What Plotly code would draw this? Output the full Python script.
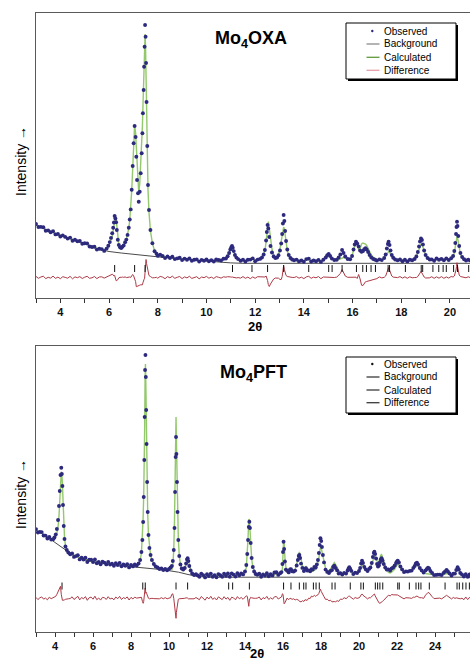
import plotly.graph_objects as go

# ================= Mo4OXA (upper panel) =================
TOP_2THETA = [
    3.0, 3.1, 3.2, 3.3, 3.4, 3.5, 3.6, 3.7, 3.8, 3.9, 4.0, 4.1, 4.2, 4.3, 4.4, 4.5, 4.6, 4.7, 4.8, 4.9, 5.0, 5.1, 5.2, 5.3, 5.4, 5.5, 5.6, 5.7, 5.8,
    5.9, 5.97, 6.03, 6.08, 6.13, 6.17, 6.2, 6.23, 6.26, 6.29, 6.32, 6.36, 6.4, 6.45, 6.5, 6.55, 6.6, 6.66, 6.71, 6.76, 6.81, 6.85, 6.89, 6.93, 6.97, 7.01, 7.05, 7.09, 7.12, 7.15, 7.19, 7.22, 7.26, 7.3, 7.34, 7.37, 7.39, 7.42, 7.44, 7.46, 7.48, 7.5, 7.52, 7.54, 7.57, 7.6, 7.64, 7.7, 7.78, 7.87, 7.95,
    8.0, 8.1, 8.2, 8.3, 8.4, 8.5, 8.6, 8.7, 8.8, 8.9, 9.0, 9.1, 9.2, 9.3, 9.4, 9.5, 9.6, 9.7, 9.8, 9.9, 10.0, 10.1, 10.2, 10.3, 10.4, 10.5, 10.6, 10.7,
    10.8, 10.87, 10.93, 10.98, 11.02, 11.05, 11.08, 11.12, 11.17, 11.23, 11.3, 11.4,
    11.5, 11.6, 11.7, 11.8, 11.9, 12.0, 12.1, 12.2,
    12.28, 12.35, 12.4, 12.45, 12.48, 12.51, 12.54, 12.58, 12.63, 12.69, 12.76, 12.83, 12.9, 12.96, 13.02, 13.07, 13.11, 13.14, 13.17, 13.2, 13.23, 13.27, 13.32, 13.38, 13.45, 13.52, 13.6,
    13.7, 13.8, 13.9, 14.0, 14.1, 14.2, 14.3, 14.4, 14.5, 14.6, 14.7, 14.8,
    14.9, 14.96, 15.02, 15.08, 15.15, 15.25, 15.35, 15.43, 15.5, 15.57, 15.63, 15.7, 15.8, 15.9, 15.98, 16.04, 16.09, 16.14, 16.19, 16.25, 16.31, 16.37, 16.43, 16.48, 16.53, 16.58, 16.64, 16.7, 16.77, 16.85, 16.93,
    17.0, 17.1, 17.2,
    17.3, 17.36, 17.41, 17.45, 17.48, 17.52, 17.56, 17.61, 17.67, 17.75, 17.85,
    17.95, 18.05, 18.15, 18.25, 18.35, 18.45,
    18.55, 18.62, 18.68, 18.73, 18.77, 18.81, 18.85, 18.89, 18.94, 19.0, 19.08, 19.17,
    19.25, 19.35, 19.45, 19.55, 19.65, 19.75, 19.85, 19.95, 20.05,
    20.13, 20.18, 20.22, 20.25, 20.27, 20.29, 20.31, 20.34, 20.38, 20.43, 20.5, 20.58, 20.66, 20.75, 20.84,
]
TOP_OBS = [
    74.0, 71.0, 71.1, 70.8, 67.3, 67.6, 65.8, 66.8, 63.6, 64.0, 61.5, 62.6, 61.1, 59.4, 60.4, 57.2, 58.3, 56.7, 57.0, 54.3, 54.8, 54.6, 51.5, 51.0, 51.3, 48.4, 49.3, 48.9, 47.1,
    49.4, 52.3, 55.9, 60.1, 64.7, 70.2, 75.5, 82.0, 79.6, 75.8, 68.0, 58.3, 53.1, 50.8, 49.9, 51.2, 52.6, 55.8, 58.4, 63.1, 70.2, 78.5, 88.6, 108.2, 132.0, 154.7, 172.0, 161.0, 141.3, 118.0, 104.7, 96.3, 106.3, 124.7, 144.7, 164.7, 184.7, 208.0, 231.3, 251.3, 273.0, 261.3, 235.0, 196.0, 152.0, 113.0, 88.0, 68.0, 54.7, 46.8, 44.2,
    42.3, 43.3, 42.0, 39.9, 41.6, 40.0, 41.3, 38.9, 39.6, 40.2, 37.9, 39.4, 38.2, 39.6, 37.3, 38.3, 38.6, 36.4, 38.1, 37.3, 38.5, 36.7, 37.8, 36.5, 38.5, 38.0, 37.5, 39.3,
    39.5, 41.8, 45.0, 48.6, 50.8, 52.0, 50.3, 46.9, 43.0, 40.4, 38.9, 37.2,
    38.3, 36.5, 38.2, 38.4, 39.6, 36.8, 38.4, 39.1,
    40.5, 43.5, 48.0, 57.5, 66.0, 73.0, 69.5, 61.0, 52.0, 45.5, 41.5, 40.0, 40.5, 42.8, 47.5, 54.5, 64.0, 74.5, 83.0, 77.0, 67.0, 57.0, 48.5, 43.0, 40.0, 38.5, 37.8,
    38.4, 36.6, 37.5, 36.3, 38.9, 39.4, 36.5, 37.5, 36.7, 38.1, 36.1, 38.3,
    40.5, 42.8, 44.0, 42.0, 39.5, 38.0, 38.2, 40.5, 43.5, 48.0, 45.0, 41.5, 39.0, 38.8, 42.0, 48.5, 53.5, 56.3, 54.5, 51.5, 47.5, 46.3, 47.0, 48.8, 49.7, 48.5, 46.0, 43.0, 40.5, 39.0, 38.2,
    37.4, 38.6, 37.9,
    40.0, 43.5, 49.5, 54.0, 56.3, 53.0, 47.5, 43.0, 40.2, 38.5, 37.8,
    38.5, 36.8, 38.3, 36.6, 38.2, 37.7,
    39.0, 41.5, 46.0, 51.5, 56.5, 59.5, 58.0, 53.5, 47.5, 43.0, 40.0, 38.5,
    38.6, 37.2, 39.5, 38.2, 39.1, 37.7, 39.6, 38.0, 39.8,
    42.0, 47.0, 55.0, 64.0, 71.0, 76.3, 72.0, 62.0, 52.0, 45.0, 41.0, 38.8, 37.5, 38.3, 37.4,
]
TOP_CALC = [
    73.0, 71.8, 70.6, 69.5, 68.4, 67.4, 66.4, 65.4, 64.5, 63.6, 62.7, 61.8, 61.0, 60.1, 59.3, 58.5, 57.7, 56.9, 56.1, 55.3, 54.5, 53.4, 52.3, 51.3, 50.3, 49.5, 48.8, 48.2, 47.7,
    48.8, 51.2, 54.5, 58.0, 61.5, 67.5, 74.0, 80.0, 81.0, 79.0, 71.0, 60.5, 53.5, 50.5, 49.8, 50.7, 52.5, 55.2, 58.5, 63.0, 69.5, 78.0, 88.5, 107.0, 129.0, 153.0, 173.0, 165.0, 150.5, 127.0, 113.0, 105.0, 114.0, 132.0, 152.0, 172.0, 190.0, 212.0, 233.0, 252.0, 264.0, 250.0, 217.0, 182.0, 142.0, 108.0, 86.0, 67.0, 55.0, 47.0, 44.0,
    43.0, 42.2, 41.6, 41.1, 40.7, 40.3, 40.0, 39.7, 39.4, 39.2, 39.0, 38.8, 38.6, 38.4, 38.2, 38.0, 37.8, 37.7, 37.6, 37.5, 37.4, 37.4, 37.4, 37.5, 37.6, 37.8, 38.1, 38.6,
    39.2, 41.0, 44.0, 48.0, 50.5, 51.2, 50.0, 47.0, 43.5, 40.8, 39.0, 37.8,
    37.4, 37.3, 37.8, 39.6, 39.0, 37.6, 37.6, 38.6,
    40.2, 43.0, 47.5, 56.0, 66.0, 76.0, 76.5, 70.0, 58.5, 49.0, 43.0, 40.5, 40.7, 43.5, 49.5, 56.5, 63.0, 68.0, 71.0, 69.0, 63.0, 55.0, 47.5, 42.5, 39.8, 38.4, 37.8,
    37.5, 37.3, 37.2, 37.4, 38.3, 38.2, 37.3, 37.1, 37.0, 37.1, 37.3, 37.8,
    40.2, 42.5, 43.8, 42.2, 39.8, 38.0, 37.8, 38.5, 39.5, 40.0, 40.5, 40.0, 38.8, 38.5, 42.0, 48.0, 53.0, 56.0, 55.5, 48.5, 49.0, 54.0, 55.0, 54.5, 54.0, 52.5, 49.5, 46.0, 43.0, 40.8, 39.3,
    38.5, 38.0, 38.3,
    39.8, 42.0, 44.5, 46.0, 46.5, 45.5, 43.5, 41.5, 39.8, 38.6, 37.9,
    37.6, 37.4, 37.6, 37.4, 37.5, 38.0,
    39.0, 41.5, 45.0, 49.0, 52.0, 53.5, 53.5, 51.0, 47.0, 43.5, 40.5, 38.8,
    37.8, 38.0, 38.8, 38.9, 38.2, 38.5, 39.0, 38.6, 38.8,
    41.5, 45.5, 51.0, 56.5, 60.0, 61.5, 60.5, 56.0, 49.5, 44.0, 40.5, 38.6, 37.8, 37.6, 37.6,
]
TOP_BKG_2THETA = [3.0, 3.5, 4.0, 4.5, 5.0, 5.5, 6.0, 6.5, 7.0, 7.5, 8.0, 8.5, 9.0, 9.5, 10.0, 10.5, 11.0, 11.5, 20.9]
TOP_BKG = [73.0, 67.4, 62.7, 58.5, 54.5, 49.3, 46.5, 45.0, 43.6, 42.3, 41.0, 39.9, 38.8, 37.8, 36.8, 35.8, 35.1, 34.7, 34.7]
TOP_REFL = [6.23, 7.05, 7.48, 11.07, 11.87, 12.51, 13.17, 14.20, 15.02, 15.16, 15.57, 16.16, 16.42, 16.57, 16.76,
            16.94, 17.46, 17.52, 18.17, 18.82, 18.88, 19.30, 19.54, 19.72, 19.85, 20.15, 20.31, 20.77]

# ================= Mo4PFT (lower panel) =================
BOT_2THETA = [
    3.0, 3.1, 3.2, 3.3, 3.4, 3.5, 3.6, 3.7, 3.8, 3.9,
    3.97, 4.04, 4.1, 4.16, 4.21, 4.25, 4.29, 4.33, 4.36, 4.39, 4.42, 4.46, 4.5, 4.55, 4.62, 4.7, 4.8,
    4.9, 5.0, 5.1, 5.2, 5.3, 5.4, 5.5, 5.6, 5.7, 5.8, 5.9, 6.0, 6.1, 6.2, 6.3, 6.4, 6.5, 6.6, 6.7, 6.8, 6.9, 7.0, 7.1, 7.2, 7.3, 7.4, 7.5, 7.6, 7.7, 7.8, 7.9, 8.0, 8.1, 8.2,
    8.3, 8.4, 8.48, 8.55, 8.6, 8.64, 8.67, 8.7, 8.72, 8.74, 8.76, 8.78, 8.8, 8.82, 8.85, 8.88, 8.92, 8.97, 9.03, 9.1, 9.2, 9.3, 9.4, 9.5, 9.6, 9.7, 9.8, 9.9, 10.0, 10.08,
    10.15, 10.2, 10.25, 10.29, 10.32, 10.35, 10.37, 10.39, 10.42, 10.45, 10.49, 10.54, 10.6, 10.67, 10.75, 10.83, 10.9, 10.95, 10.98, 11.02, 11.07, 11.14, 11.22, 11.32, 11.42, 11.52,
    11.6, 11.7, 11.8, 11.9, 12.0, 12.1, 12.2, 12.3, 12.4, 12.5, 12.6, 12.7, 12.8, 12.9, 13.0, 13.1, 13.2, 13.3, 13.4, 13.5, 13.6, 13.7, 13.8, 13.9,
    14.0, 14.07, 14.12, 14.16, 14.2, 14.23, 14.26, 14.3, 14.35, 14.41, 14.48, 14.56, 14.65,
    14.75, 14.85, 14.95, 15.05, 15.15, 15.25, 15.35, 15.45, 15.55, 15.65, 15.75, 15.85,
    15.92, 15.97, 16.0, 16.03, 16.06, 16.1, 16.15, 16.22, 16.3, 16.37,
    16.42, 16.48, 16.56, 16.64, 16.72, 16.78, 16.83, 16.86, 16.9, 16.95,
    17.02, 17.1, 17.16, 17.21, 17.27, 17.35, 17.43, 17.5, 17.57, 17.65,
    17.72, 17.78, 17.84, 17.89, 17.93, 17.97, 18.01, 18.05, 18.1, 18.16,
    18.24, 18.33, 18.42, 18.5, 18.58, 18.64, 18.7, 18.77, 18.85, 18.93,
    19.02, 19.12, 19.22, 19.32, 19.4, 19.45, 19.49, 19.54, 19.6, 19.7,
    19.8, 19.9,
    20.0, 20.06, 20.11, 20.16, 20.21, 20.28, 20.36, 20.45, 20.53, 20.6,
    20.67, 20.73, 20.78, 20.81, 20.85, 20.9, 20.95, 21.0, 21.05, 21.1,
    21.15, 21.19, 21.24, 21.3, 21.38, 21.46, 21.55, 21.64, 21.72, 21.8,
    21.88, 21.95, 22.0, 22.04, 22.1, 22.18, 22.27, 22.37, 22.47, 22.57,
    22.67, 22.77, 22.86, 22.93, 22.99, 23.05, 23.11, 23.2, 23.3, 23.4,
    23.5, 23.57, 23.63, 23.69, 23.76, 23.85, 23.95, 24.05, 24.15, 24.25,
    24.35, 24.45, 24.53, 24.61, 24.68, 24.77, 24.87, 24.97, 25.05, 25.12,
    25.19, 25.25, 25.33, 25.42, 25.52, 25.62, 25.72, 25.82, 25.9,
]
BOT_OBS = [
    102.9, 99.5, 100.1, 99.9, 96.5, 96.4, 93.5, 95.0, 92.4, 92.8,
    94.5, 97.5, 103.0, 112.0, 126.0, 141.0, 157.0, 164.3, 158.0, 146.0, 127.0, 106.0, 93.0, 85.5, 82.0, 79.5, 77.8,
    78.5, 75.1, 75.9, 76.8, 72.6, 74.4, 72.5, 74.2, 70.0, 72.2, 72.4, 69.9, 72.5, 68.7, 70.1, 67.7, 70.2, 69.4, 67.6, 70.1, 67.5, 68.2, 66.3, 68.9, 67.0, 69.1, 65.8, 67.5, 66.3, 67.8, 64.6, 67.1, 65.6, 67.5,
    66.5, 68.5, 72.0, 80.0, 92.0, 110.0, 135.0, 172.0, 215.0, 262.0, 277.0, 255.0, 222.0, 188.0, 150.0, 120.0, 97.0, 84.0, 77.0, 72.0, 68.0, 65.5, 64.5, 63.0, 63.5, 62.0, 63.0, 61.8, 63.0, 64.5,
    66.0, 71.0, 82.0, 104.0, 140.0, 175.0, 195.0, 178.0, 150.0, 120.0, 92.0, 76.0, 67.5, 63.5, 62.5, 64.0, 68.5, 72.5, 73.7, 71.0, 66.0, 61.5, 58.5, 57.0, 57.8, 56.5,
    55.3, 58.4, 56.9, 54.6, 57.7, 55.9, 58.4, 55.3, 56.9, 54.7, 57.9, 56.7, 55.3, 58.3, 56.1, 58.5, 55.2, 58.6, 57.4, 55.4, 58.7, 56.8, 58.6, 57.6,
    60.5, 67.0, 78.0, 92.0, 105.0, 110.3, 104.0, 89.0, 74.0, 65.0, 60.5, 58.0, 57.2,
    58.2, 55.2, 57.5, 56.4, 58.8, 55.8, 57.7, 56.6, 59.5, 59.8, 57.1, 58.7,
    59.9, 68.0, 80.0, 90.3, 83.0, 70.5, 62.4, 61.3, 59.6, 62.6,
    62.7, 60.8, 60.5, 61.4, 66.5, 72.0, 76.0, 77.0, 74.0, 68.4,
    64.1, 60.9, 63.1, 63.7, 61.4, 61.6, 60.8, 62.7, 62.4, 65.1,
    64.4, 67.5, 72.0, 79.0, 87.0, 93.7, 91.0, 85.0, 77.0, 69.6,
    62.4, 60.1, 58.9, 61.1, 61.9, 65.0, 66.3, 64.0, 61.6, 58.4,
    58.7, 57.4, 59.1, 58.4, 61.5, 63.5, 64.7, 63.0, 61.1, 57.9,
    59.4, 58.9,
    61.0, 64.0, 68.5, 71.3, 69.0, 65.0, 62.6, 60.9, 63.1, 64.5,
    69.0, 75.0, 79.0, 80.3, 78.0, 73.5, 68.0, 65.5, 66.5, 69.5,
    72.5, 73.7, 71.5, 68.0, 64.5, 62.5, 62.6, 61.4, 63.6, 64.5,
    66.5, 69.0, 70.5, 71.3, 69.5, 65.5, 62.6, 59.9, 60.6, 60.4,
    61.1, 61.4, 64.1, 66.0, 68.5, 69.3, 67.5, 64.0, 61.6, 59.4,
    61.6, 63.0, 64.3, 63.5, 61.0, 59.1, 56.9, 57.1, 57.4, 57.4,
    56.9, 59.1, 60.5, 62.0, 60.5, 58.6, 56.4, 58.4, 58.4, 62.0,
    64.7, 62.5, 59.0, 57.6, 55.4, 57.8, 55.2, 57.5, 55.3,
]
BOT_CALC = [
    102.0, 100.8, 99.6, 98.5, 97.3, 96.2, 95.0, 93.9, 92.8, 92.0,
    93.5, 95.5, 99.0, 105.0, 116.0, 130.0, 145.0, 160.3, 158.5, 148.0, 129.0, 108.0, 94.5, 86.5, 82.5, 80.0, 78.0,
    77.0, 76.3, 75.5, 74.8, 74.2, 73.6, 73.0, 72.5, 72.0, 71.6, 71.2, 70.8, 70.4, 70.1, 69.8, 69.5, 69.2, 68.9, 68.7, 68.5, 68.2, 68.0, 67.8, 67.6, 67.4, 67.2, 67.0, 66.8, 66.6, 66.4, 66.3, 66.2, 66.2, 66.4,
    66.3, 68.0, 71.5, 79.0, 95.0, 115.0, 138.0, 168.0, 205.0, 252.0, 268.0, 250.0, 216.0, 183.0, 147.0, 118.0, 97.0, 84.5, 77.0, 72.0, 68.3, 65.8, 64.4, 63.5, 62.9, 62.5, 62.3, 62.3, 62.8, 64.0,
    62.0, 66.5, 82.0, 112.0, 155.0, 193.0, 215.0, 192.0, 158.0, 123.0, 93.0, 76.5, 68.0, 64.0, 62.8, 64.0, 68.0, 72.0, 73.5, 71.5, 66.5, 62.0, 59.0, 57.5, 57.0, 56.8,
    56.7, 56.6, 56.6, 56.5, 56.5, 56.5, 56.4, 56.4, 56.4, 56.4, 56.5, 56.5, 56.6, 56.7, 56.9, 57.6, 57.2, 57.5, 57.0, 56.9, 57.0, 57.3, 57.8, 58.6,
    60.0, 64.5, 76.0, 94.0, 113.0, 112.0, 103.0, 88.0, 73.5, 65.0, 60.5, 58.0, 57.0,
    56.9, 56.8, 56.8, 56.8, 56.9, 57.0, 57.2, 57.5, 58.0, 58.0, 57.8, 58.3,
    58.5, 63.5, 76.0, 91.0, 88.5, 75.0, 65.0, 61.0, 61.0, 62.5,
    63.0, 61.8, 61.0, 63.0, 67.5, 73.5, 78.0, 80.0, 77.0, 72.0,
    66.5, 64.0, 64.5, 65.5, 63.5, 61.5, 61.0, 60.5, 61.0, 62.0,
    62.5, 64.5, 68.5, 74.0, 80.0, 84.5, 84.0, 80.0, 74.0, 68.0,
    63.5, 61.0, 61.5, 63.0, 65.5, 68.0, 69.5, 67.5, 64.0, 61.5,
    59.5, 58.5, 58.5, 58.8, 60.0, 61.5, 62.5, 61.5, 59.8, 58.8,
    58.6, 59.0,
    60.5, 62.5, 65.0, 67.0, 66.0, 63.5, 61.8, 61.5, 62.5, 64.0,
    67.5, 72.0, 75.0, 76.0, 75.5, 73.0, 70.0, 69.0, 71.0, 74.5,
    77.0, 77.5, 74.5, 70.0, 65.0, 61.5, 59.5, 59.0, 59.8, 61.0,
    63.0, 65.5, 67.0, 68.0, 67.0, 64.0, 61.5, 60.5, 60.0, 60.3,
    60.8, 61.5, 63.0, 65.0, 66.5, 67.0, 66.0, 63.5, 61.0, 59.5,
    58.5, 58.5, 58.5, 58.0, 57.8, 57.5, 57.2, 57.0, 57.0, 57.2,
    57.5, 58.0, 58.5, 59.0, 58.5, 57.5, 57.0, 57.5, 58.5, 61.5,
    64.5, 62.5, 59.5, 57.5, 56.8, 56.5, 56.5, 56.5, 56.4,
]
BOT_BKG_2THETA = [3.0, 3.5, 3.75, 4.0, 4.25, 4.5, 4.75, 5.0, 5.5, 6.0, 6.5, 7.0, 7.5, 8.0, 8.5, 9.0, 9.5, 10.0, 10.5, 11.0, 11.5, 12.0, 25.9]
BOT_BKG = [102.0, 96.2, 93.0, 89.5, 86.0, 82.5, 79.5, 76.8, 72.3, 70.0, 68.5, 67.2, 66.2, 65.3, 64.5, 63.6, 62.6, 61.3, 59.8, 57.5, 55.6, 54.8, 54.8]
BOT_REFL = [4.37, 8.62, 8.75, 10.37, 10.98, 13.14, 13.35, 14.23, 16.03, 16.42, 16.86, 17.09, 17.21, 17.60, 17.74,
            17.91, 18.58, 18.74, 19.54, 20.10, 20.23, 20.86, 20.98, 21.10, 21.25, 22.04, 22.12, 22.65, 23.00,
            23.14, 23.26, 23.70, 24.53, 25.16, 25.28, 25.46, 25.63, 25.81]

LEGEND_LABELS = ["Observed", "Background", "Calculated", "Difference"]

for a, b, c in [(TOP_2THETA, TOP_OBS, TOP_CALC), (BOT_2THETA, BOT_OBS, BOT_CALC)]:
    assert len(a) == len(b) == len(c), (len(a), len(b), len(c))

# ---------------- geometry / style ----------------
W, H = 470, 660
ML, MR, MT, MB = 36, 0, 13, 28
PW, PH = W - ML - MR, H - MT - MB
FONT = "Liberation Sans, Arial, sans-serif"
C_OBS = "#2d2a7e"
C_CALC = "#93c86c"
C_BKG = "#4a4a4a"
C_DIFF = "#ad3a46"


def pxx(x):
    return (x - ML) / PW


def pxy(y):
    return (H - MB - y) / PH


fig = go.Figure()


def add_panel(xa, ya, tt, obs, calc, btt, bkg, refl, diff_base, refl_y):
    diff = [o - c + diff_base for o, c in zip(obs, calc)]
    fig.add_trace(go.Scatter(x=btt, y=bkg, mode="lines", line=dict(color=C_BKG, width=1),
                             xaxis=xa, yaxis=ya, showlegend=False, hoverinfo="skip"))
    fig.add_trace(go.Scatter(x=tt, y=calc, mode="lines", line=dict(color=C_CALC, width=1.4),
                             xaxis=xa, yaxis=ya, showlegend=False))
    fig.add_trace(go.Scatter(x=tt, y=obs, mode="markers",
                             marker=dict(color=C_OBS, size=3.9, line=dict(width=0)),
                             xaxis=xa, yaxis=ya, showlegend=False))
    fig.add_trace(go.Scatter(x=tt, y=diff, mode="lines", line=dict(color=C_DIFF, width=1),
                             xaxis=xa, yaxis=ya, showlegend=False))
    fig.add_trace(go.Scatter(x=refl, y=[refl_y] * len(refl), mode="markers",
                             marker=dict(symbol="line-ns", size=5, line=dict(color="#111", width=1)),
                             xaxis=xa, yaxis=ya, showlegend=False, hoverinfo="x"))


add_panel("x", "y", TOP_2THETA, TOP_OBS, TOP_CALC, TOP_BKG_2THETA, TOP_BKG, TOP_REFL, 20.5, 29.5)
add_panel("x2", "y2", BOT_2THETA, BOT_OBS, BOT_CALC, BOT_BKG_2THETA, BOT_BKG, BOT_REFL, 33.7, 46.0)

xcommon = dict(showline=True, linecolor="#5a5a5a", linewidth=1.3, mirror=True, ticks="outside",
               ticklen=4, tickwidth=1, tickcolor="#333", dtick=2, tick0=0, showgrid=False, zeroline=False,
               tickfont=dict(family=FONT, size=11, color="#111", weight="bold"),
               minor=dict(dtick=1, ticks="outside", ticklen=4, tickcolor="#333", showgrid=False))
ycommon = dict(showline=True, linecolor="#5a5a5a", linewidth=1.3, ticks="", showticklabels=False,
               showgrid=False, zeroline=False)

top_lo = (H - MB - 298) / PH
bot_hi = (H - MB - 345.7) / PH
fig.update_layout(
    width=W, height=H, margin=dict(l=ML, r=MR, t=MT, b=MB),
    paper_bgcolor="white", plot_bgcolor="white",
    font=dict(family=FONT, color="#111"),
    xaxis=dict(xcommon, domain=[0, 1], range=[3, 3 + PW / 24.35], anchor="y"),
    yaxis=dict(ycommon, domain=[top_lo, 1], range=[0, 285], anchor="x"),
    xaxis2=dict(xcommon, domain=[0, 1], range=[3, 3 + PW / 19.0], anchor="y2"),
    yaxis2=dict(ycommon, domain=[0, bot_hi], range=[0, 286.3], anchor="x2"),
)

ann = []
shapes = []


def text(x, y, s, size, bold=False, angle=0, xanchor="center"):
    ann.append(dict(x=pxx(x), y=pxy(y), xref="paper", yref="paper", text=s, showarrow=False,
                    xanchor=xanchor, yanchor="middle", textangle=angle,
                    font=dict(family=FONT, size=size, color="#000", weight="bold" if bold else "normal")))


# panel titles
text(251, 40, "Mo<sub>4</sub>OXA", 18, bold=True)
text(253, 373, "Mo<sub>4</sub>PFT", 18, bold=True)
# axis titles
text(21, 161, "Intensity →", 14, angle=-90)
text(21, 494, "Intensity →", 14, angle=-90)
text(255.5, 326, "2θ", 13, bold=True)
text(257, 653, "2θ", 13, bold=True)


def legend(top, row_y, colors, dot_color):
    x0, x1 = 346, 456
    bottom = top + 56
    shapes.append(dict(type="rect", xref="paper", yref="paper", x0=pxx(x0 + 2), x1=pxx(x1 + 2),
                       y0=pxy(bottom + 2), y1=pxy(top + 2), fillcolor="#000", line=dict(width=0), layer="above"))
    shapes.append(dict(type="rect", xref="paper", yref="paper", x0=pxx(x0), x1=pxx(x1),
                       y0=pxy(bottom), y1=pxy(top), fillcolor="white", line=dict(color="#000", width=1),
                       layer="above"))
    for i, lab in enumerate(LEGEND_LABELS):
        y = top + row_y[i]
        if i == 0:
            shapes.append(dict(type="circle", xref="paper", yref="paper", x0=pxx(371.1), x1=pxx(373.5),
                               y0=pxy(y + 1.2), y1=pxy(y - 1.2), fillcolor=dot_color, line=dict(width=0),
                               layer="above"))
        else:
            shapes.append(dict(type="line", xref="paper", yref="paper", x0=pxx(366.5), x1=pxx(379.5),
                               y0=pxy(y), y1=pxy(y), line=dict(color=colors[i - 1], width=1.3), layer="above"))
        text(381.5, y, lab, 10, xanchor="left")


legend(23, [8, 21, 34.3, 47.3], ["#8c8c8c", "#5e9a3a", "#e7a0aa"], C_OBS)
legend(357, [7, 20, 33, 45.7], ["#3a3a3a", "#3a3a3a", "#3a3a3a"], "#111")

fig.update_layout(annotations=ann, shapes=shapes)
fig.write_html("out.html", config={"displayModeBar": False},
               post_script="document.body.style.margin='0';document.body.style.overflow='hidden';")
